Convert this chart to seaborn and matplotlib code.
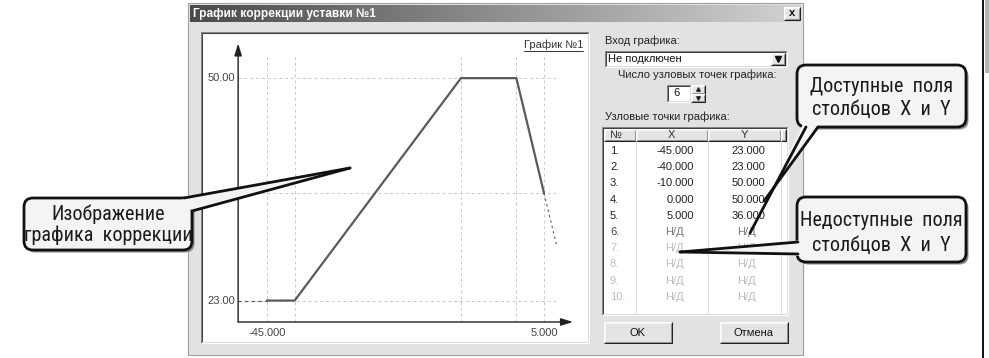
import numpy as np
import matplotlib
matplotlib.use("Agg")
import matplotlib.pyplot as plt
import seaborn as sns
from matplotlib import font_manager
from matplotlib.font_manager import FontProperties
from matplotlib.patches import Rectangle, FancyBboxPatch, Polygon
from matplotlib.colors import LinearSegmentedColormap

# node points of the correction curve (table rows 1-5)
node_x = [-45.0, -40.0, -10.0, 0.0, 5.0]
node_y = [23.0, 23.0, 50.0, 50.0, 36.0]
# dashed continuation after the last node
tail_x = [5.0, 7.3]
tail_y = [36.0, 29.6]
node_count = 6
row_numbers = [f"{i}." for i in range(1, 11)]
x_tick_labels = ["-45.000", "5.000"]
y_tick_labels = ["50.00", "23.00"]
na_label = "Н/Д"

sns.set_theme(style="white")
plt.rcParams["font.family"] = ["Liberation Sans", "DejaVu Sans"]


# look for a condensed face with cyrillic for the callout captions
def find_condensed():
    prefs = ["Roboto Condensed", "Liberation Sans Narrow", "DejaVu Sans", "Noto Sans", "Open Sans", "Roboto"]
    found = {}
    for f in font_manager.fontManager.ttflist:
        fn = f.fname.lower()
        narrow = ("condensed" in fn or "narrow" in fn or "condensed" in f.name.lower()
                  or "narrow" in f.name.lower() or f.stretch in ("condensed", "semi-condensed", 500, 600, 700))
        if not narrow or f.style != "normal" or f.weight not in (400, "normal", "regular"):
            continue
        if "semi" in fn or "extra" in fn or "ultra" in fn or "light" in fn or "medium" in fn:
            continue
        for p in prefs:
            if f.name.startswith(p) and p not in found:
                found[p] = f.fname
    for p in prefs:
        if p in found:
            return found[p], True
    return None, False


cond_path, is_cond = find_condensed()


def callout_props(size):
    if is_cond:
        return FontProperties(fname=cond_path, size=size)
    return FontProperties(family="Liberation Sans", size=size - 2.5)


W, H = 989, 358
fig = plt.figure(figsize=(W / 100, H / 100), dpi=100)


def pixel_axes(z):
    a = fig.add_axes([0, 0, 1, 1], zorder=z)
    a.set_xlim(0, W)
    a.set_ylim(H, 0)
    a.set_axis_off()
    return a


bg = pixel_axes(0)
ov = pixel_axes(3)


def box(a, x0, y0, x1, y1, fc, ec="none", lw=0):
    a.add_patch(Rectangle((x0, y0), x1 - x0, y1 - y0, fc=fc, ec=ec, lw=lw))


def edge3d(a, x0, y0, x1, y1, light, dark, lw=0.75):
    a.plot([x0, x0, x1], [y1, y0, y0], color=light, lw=lw, solid_capstyle="butt")
    a.plot([x0, x1, x1], [y1, y1, y0], color=dark, lw=lw, solid_capstyle="butt")


def sunken(a, x0, y0, x1, y1, fc="white"):
    box(a, x0, y0, x1, y1, fc)
    edge3d(a, x0, y0, x1, y1, "#8a8a8a", "#ffffff")
    edge3d(a, x0 + 1, y0 + 1, x1 - 1, y1 - 1, "#404040", "#dcdcdc")


def raised(a, x0, y0, x1, y1, fc="#e4e4e4"):
    box(a, x0, y0, x1, y1, fc)
    edge3d(a, x0, y0, x1, y1, "#ffffff", "#202020")
    edge3d(a, x0 + 1, y0 + 1, x1 - 1, y1 - 1, "#f4f4f4", "#909090")


def label(a, x, y, s, ha="left", color="#222222", size=8, **kw):
    a.text(x, y, s, ha=ha, va="center", fontsize=size, color=color, **kw)


# page edge on the right
bg.plot([983, 983], [0, H], color="#111111", lw=1.4)
box(bg, 985, 0, 989, 73, "#b4b4b4")

# dialog frame and title bar
box(bg, 188, 3, 803, 355, "#e2e2e2", ec="#a0a0a0", lw=0.8)
grad = np.linspace(0, 1, 256)[None, :]
bg.imshow(grad, cmap=LinearSegmentedColormap.from_list("title", ["#4a4a4a", "#d2d2d2"]),
          extent=(190, 801, 22, 5), aspect="auto", zorder=1)
bg.set_xlim(0, W)
bg.set_ylim(H, 0)
label(bg, 193, 13.5, "График коррекции уставки №1", color="white", size=8.6, fontweight="bold", zorder=2)
raised(bg, 784, 7, 800, 20)
label(bg, 792, 13.5, "x", ha="center", color="#111111", fontweight="bold", zorder=3)

# chart panel
sunken(bg, 201, 32, 589, 343)

# right side controls
label(bg, 605, 41, "Вход графика:")
sunken(bg, 605, 51, 787, 67)
label(bg, 608, 59, "Не подключен", color="#111111")
raised(bg, 771, 53, 785, 65)
bg.plot([778], [59], marker="v", ms=4, color="#111111")
label(bg, 697, 75, "Число узловых точек графика:", ha="center")
sunken(bg, 667, 85, 691, 102)
label(bg, 673, 93.5, str(node_count), color="#111111")
raised(bg, 691, 85, 705, 93.5)
raised(bg, 691, 93.5, 705, 102)
bg.plot([698], [89.3], marker="^", ms=2.5, color="#222222")
bg.plot([698], [97.8], marker="v", ms=2.5, color="#222222")
label(bg, 605, 117, "Узловые точки графика:")

# node table
sunken(bg, 602, 127, 788, 315)
col_edges = [604, 636, 708, 781, 786]
for c0, c1 in zip(col_edges[:-1], col_edges[1:]):
    raised(bg, c0, 129, c1, 141)
label(bg, 610, 135, "№", color="#333333")
label(bg, 671, 135, "X", ha="center", color="#333333")
label(bg, 744, 135, "Y", ha="center", color="#333333")
for cx in col_edges[1:4]:
    bg.plot([cx, cx], [141, 313], color="#d8d8d8", lw=0.7)

row_y0, row_step = 151, 16.2
for i, num in enumerate(row_numbers):
    y = row_y0 + i * row_step
    if i < len(node_x):
        label(bg, 610, y, num, color="#222222")
        label(bg, 694, y, f"{node_x[i]:.3f}", ha="right", color="#222222")
        label(bg, 765, y, f"{node_y[i]:.3f}", ha="right", color="#222222")
    else:
        c_num = "#444444" if i < node_count else "#bdbdbd"
        c_na = "#777777" if i < node_count else "#bdbdbd"
        label(bg, 610, y, num, color=c_num)
        label(bg, 675, y, na_label, ha="center", color=c_na)
        label(bg, 747, y, na_label, ha="center", color=c_na)

raised(bg, 604, 322, 672, 343)
label(bg, 638, 332.5, "OK", ha="center", color="#111111")
raised(bg, 720, 322, 788, 343)
label(bg, 754, 332.5, "Отмена", ha="center", color="#111111")

# chart itself, in data units
x_lo, x_hi = -56.9, 13.1
y_lo, y_hi = 17.85, 55.6
axis_x, axis_y = -50.2, 20.4
ax = fig.add_axes([201 / W, (H - 343) / H, 388 / W, 311 / H], zorder=1)

grid_kw = dict(color="#c8c8c8", lw=0.7, ls=(0, (3, 3)))
for gx in node_x:
    ax.plot([gx, gx], [axis_y, 52.7], **grid_kw)
for gy in sorted(set(node_y)):
    ax.plot([axis_x, 7.5], [gy, gy], **grid_kw)

ax.plot([axis_x, node_x[0]], [node_y[0], node_y[0]], color="#505050", lw=0.8, ls=(0, (3, 3)))
ax.plot(tail_x, tail_y, color="#505050", lw=0.8, ls=(0, (2, 3)))
sns.lineplot(x=node_x, y=node_y, ax=ax, sort=False, estimator=None, color="#5a5a5a", linewidth=1.6)

arrow_kw = dict(arrowstyle="-|>,head_width=0.25,head_length=0.8", color="#202020", lw=1,
                mutation_scale=9, shrinkA=0, shrinkB=0)
ax.annotate("", xy=(axis_x, 54.2), xytext=(axis_x, axis_y), arrowprops=arrow_kw)
ax.annotate("", xy=(10.2, axis_y), xytext=(axis_x, axis_y), arrowprops=arrow_kw)

for lab, yv in zip(y_tick_labels, [max(node_y), min(node_y)]):
    ax.text(axis_x - 0.5, yv, lab, ha="right", va="center", fontsize=8, color="#444444")
for lab, xv in zip(x_tick_labels, [min(node_x), max(node_x)]):
    ax.text(xv, axis_y - 1.3, lab, ha="center", va="center", fontsize=8, color="#444444")

ax.set_xlim(x_lo, x_hi)
ax.set_ylim(y_lo, y_hi)
ax.set_axis_off()

label(ov, 583, 45, "График №1", ha="right", color="#333333")
ov.plot([524, 583], [50.5, 50.5], color="#333333", lw=0.7)


# callouts
def callout(x0, y0, x1, y1, lines, ys, pointers, fill, fs=14.5):
    style = "round,pad=0,rounding_size=9"
    ov.add_patch(FancyBboxPatch((x0 + 2.5, y0 + 2.5), x1 - x0, y1 - y0, boxstyle=style,
                                fc="#8c8c8c", ec="none"))
    ov.add_patch(FancyBboxPatch((x0, y0), x1 - x0, y1 - y0, boxstyle=style,
                                fc="#f4f4f4", ec="#111111", lw=2))
    ov.add_patch(Polygon(fill, closed=True, fc="#f4f4f4", ec="none"))
    for p, q in pointers:
        ov.plot([p[0], q[0]], [p[1], q[1]], color="#111111", lw=2, solid_capstyle="round")
    for s, y in zip(lines, ys):
        ov.text((x0 + x1) / 2, y, s, ha="center", va="center", fontproperties=callout_props(fs),
                color="#1a1a1a")


callout(24, 198, 192, 250, ["Изображение", "графика  коррекции"], [214, 235],
        [((184, 198), (350, 168)), ((192, 211), (350, 168))],
        [(180, 203), (184, 197.5), (350, 168), (192.5, 211), (187, 206)])
callout(797, 65, 966, 127, ["Доступные  поля", "столбцов  X  и  Y"], [87, 109],
        [((806, 127), (750, 233)), ((818, 127), (764, 201))],
        [(804, 122), (750, 233), (764, 201), (820, 122)])
callout(797, 197, 966, 262, ["Недоступные  поля", "столбцов  X  и  Y"], [220, 245],
        [((798, 242), (680, 252)), ((798, 254), (680, 252))],
        [(803, 240), (680, 252), (803, 256)])

fig.savefig("out.png", dpi=100)
